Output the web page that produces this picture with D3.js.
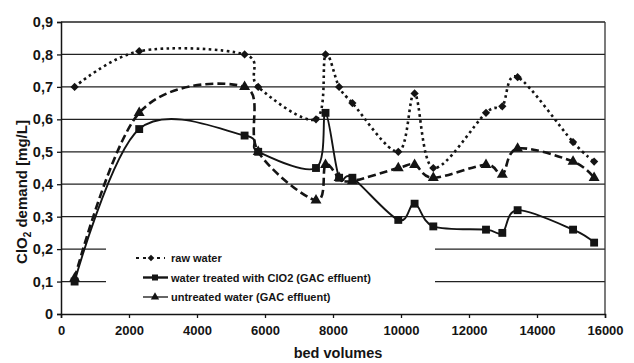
<!DOCTYPE html>
<html>
<head>
<meta charset="utf-8">
<script src="https://cdn.jsdelivr.net/npm/d3@7"></script>
<style>
  html, body { margin: 0; padding: 0; background: #fff; }
  svg { display: block; font-family: "Liberation Sans", Arial, Helvetica, sans-serif; font-weight: bold; }
</style>
</head>
<body>
<svg id="chart" width="634" height="363"></svg>
<script>
// Bed volumes at which each sample was taken
const bedVolumes = [400, 2300, 5400, 5800, 7500, 7780, 8180, 8570, 9920, 10400, 10950, 12500, 12980, 13430, 15060, 15680];

// ClO2 demand [mg/L] per water type
const rawWater       = [0.70, 0.81, 0.80, 0.70, 0.60, 0.80, 0.70, 0.65, 0.50, 0.68, 0.45, 0.62, 0.64, 0.73, 0.53, 0.47];
const treatedClO2    = [0.10, 0.57, 0.55, 0.50, 0.45, 0.62, 0.42, 0.42, 0.29, 0.34, 0.27, 0.26, 0.25, 0.32, 0.26, 0.22];
const untreatedWater = [0.11, 0.62, 0.70, 0.50, 0.35, 0.46, 0.42, 0.41, 0.45, 0.46, 0.42, 0.46, 0.43, 0.51, 0.47, 0.42];

const xTicks = [0, 2000, 4000, 6000, 8000, 10000, 12000, 14000, 16000];
const yTicks = [0, 0.1, 0.2, 0.3, 0.4, 0.5, 0.6, 0.7, 0.8, 0.9];

const seriesNames = ["raw water", "water treated with ClO2 (GAC effluent)", "untreated water (GAC effluent)"];

const svg = d3.select("#chart");
const ink = "#141414";

const x = d3.scaleLinear().domain([0, 16000]).range([61, 605]);
const y = d3.scaleLinear().domain([0, 0.9]).range([314, 22]);

// horizontal grid lines
svg.append("g").selectAll("line")
  .data(yTicks.filter(d => d > 0))
  .join("line")
  .attr("x1", x(0)).attr("x2", x(16000))
  .attr("y1", d => y(d)).attr("y2", d => y(d))
  .attr("stroke", "#222").attr("stroke-width", 1.3);

// right frame line
svg.append("line")
  .attr("x1", x(16000)).attr("x2", x(16000))
  .attr("y1", y(0.9)).attr("y2", y(0))
  .attr("stroke", "#333").attr("stroke-width", 1.3);

// axes
const xAxis = d3.axisBottom(x).tickValues(xTicks).tickSize(4).tickPadding(8).tickFormat(d3.format("d"));
const gx = svg.append("g").attr("transform", `translate(0,${y(0)})`).call(xAxis);
gx.select(".domain").attr("stroke", ink).attr("stroke-width", 1.5);
gx.selectAll(".tick line").attr("stroke", ink).attr("stroke-width", 1.3);
gx.selectAll("text").attr("font-size", 13).attr("fill", ink)
  .attr("font-family", "Liberation Sans, Arial, sans-serif").attr("font-weight", "bold");

const yAxis = d3.axisLeft(y).tickValues(yTicks).tickSize(4).tickPadding(4)
  .tickFormat(d => d === 0 ? "0" : d3.format(".1f")(d).replace(".", ","));
const gy = svg.append("g").attr("transform", `translate(${x(0)},0)`).call(yAxis);
gy.select(".domain").attr("stroke", ink).attr("stroke-width", 1.5);
gy.selectAll(".tick line").attr("stroke", ink).attr("stroke-width", 1.3);
gy.selectAll("text").attr("font-size", 14.5).attr("fill", ink)
  .attr("font-family", "Liberation Sans, Arial, sans-serif").attr("font-weight", "bold");

// axis titles
svg.append("text")
  .attr("x", 338).attr("y", 358)
  .attr("text-anchor", "middle").attr("font-size", 14.5).attr("fill", ink)
  .text("bed volumes");

const yTitle = svg.append("text")
  .attr("transform", "translate(27,192) rotate(-90)")
  .attr("text-anchor", "middle").attr("font-size", 15).attr("fill", ink);
yTitle.append("tspan").text("ClO");
yTitle.append("tspan").attr("font-size", 10).attr("dy", 4).text("2");
yTitle.append("tspan").attr("dy", -4).text(" demand [mg/L]");

// series
const smooth = d3.line().curve(d3.curveCardinal.tension(0))
  .x(d => x(d[0])).y(d => y(d[1]));

const series = [
  { name: seriesNames[0], values: rawWater,       dash: "2.6,3.4", width: 2.6, marker: "diamond" },
  { name: seriesNames[1], values: treatedClO2,    dash: null,      width: 1.9, marker: "square" },
  { name: seriesNames[2], values: untreatedWater, dash: "8,4",     width: 2.6, marker: "triangle" }
];

// diamonds are squares turned by 45 degrees
const symbolFor = {
  diamond: { path: d3.symbol().type(d3.symbolSquare).size(34)(), rot: 45 },
  square: { path: d3.symbol().type(d3.symbolSquare).size(62)(), rot: 0 },
  triangle: { path: d3.symbol().type(d3.symbolTriangle).size(52)(), rot: 0 }
};

series.forEach(s => {
  const pts = bedVolumes.map((b, i) => [b, s.values[i]]);
  svg.append("path")
    .attr("d", smooth(pts))
    .attr("fill", "none")
    .attr("stroke", ink)
    .attr("stroke-width", s.width)
    .attr("stroke-dasharray", s.dash);
  const sym = symbolFor[s.marker];
  svg.append("g").selectAll("path")
    .data(pts)
    .join("path")
    .attr("d", sym.path)
    .attr("transform", d => `translate(${x(d[0])},${y(d[1])}) rotate(${sym.rot})`)
    .attr("fill", ink);
});

// legend
const legend = svg.append("g");
legend.append("rect")
  .attr("x", 106).attr("y", 240).attr("width", 329).attr("height", 66)
  .attr("fill", "#fff");

const legendRows = [
  { name: seriesNames[0], dash: "3,4", width: 2.2, type: d3.symbolSquare,   size: 22, rot: 45, x1: 136, x2: 165, mx: 151 },
  { name: seriesNames[1], dash: null,  width: 2.4, type: d3.symbolSquare,   size: 36, rot: 0,  x1: 143, x2: 168, mx: 155 },
  { name: seriesNames[2], dash: null,  width: 1.3, type: d3.symbolTriangle, size: 30, rot: 0,  x1: 143, x2: 168, mx: 155 }
];
legendRows.forEach((r, i) => {
  const ly = 258 + i * 19.5;
  legend.append("line")
    .attr("x1", r.x1).attr("x2", r.x2).attr("y1", ly).attr("y2", ly)
    .attr("stroke", ink).attr("stroke-width", r.width).attr("stroke-dasharray", r.dash);
  legend.append("path")
    .attr("d", d3.symbol().type(r.type).size(r.size))
    .attr("transform", `translate(${r.mx},${ly}) rotate(${r.rot})`)
    .attr("fill", ink);
  legend.append("text")
    .attr("x", 171).attr("y", ly + 4)
    .attr("font-size", 11).attr("fill", ink)
    .text(r.name);
});
</script>
</body>
</html>
